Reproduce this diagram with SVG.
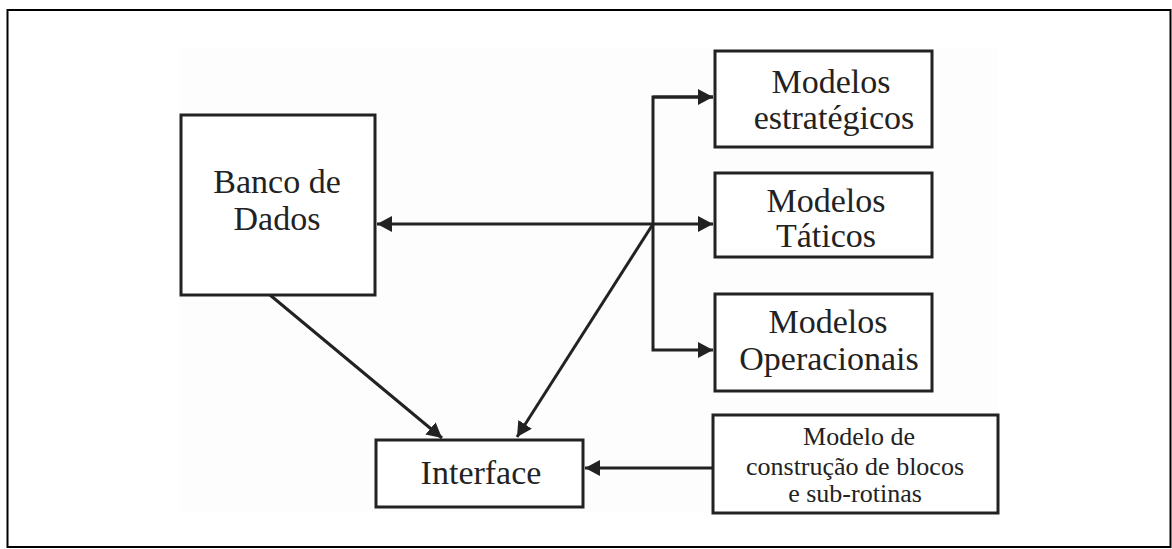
<svg xmlns="http://www.w3.org/2000/svg" width="1172" height="549" viewBox="0 0 1172 549">
  <style>
    .box { fill: #ffffff; stroke: #222222; stroke-width: 3; }
    .lbl { fill: #222222; text-anchor: middle; }
    .big { font-size: 34px; }
    .small { font-size: 26px; }
    .conn { fill: none; stroke: #222222; stroke-width: 3; }
  </style>
  <defs>
    <marker id="arrow" markerUnits="userSpaceOnUse" markerWidth="16" markerHeight="17" refX="15" refY="8" orient="auto-start-reverse">
      <path d="M0,0 L15,8 L0,16 Z" fill="#222222"/>
    </marker>
  </defs>

  <!-- page frame -->
  <rect x="0" y="0" width="1172" height="549" fill="#ffffff"/>
  <rect x="7.5" y="10" width="1163" height="537" fill="none" stroke="#000000" stroke-width="2"/>
  <rect x="180" y="49" width="818" height="464" fill="#fdfdfd"/>

  <!-- connectors -->
  <g id="connectors">
    <line class="conn" x1="377" y1="224" x2="713" y2="224" marker-start="url(#arrow)" marker-end="url(#arrow)"/>
    <polyline class="conn" points="713,97 653,97 653,350 713,350" marker-end="url(#arrow)"/>
    <line class="conn" x1="653" y1="97" x2="713" y2="97" marker-end="url(#arrow)"/>
    <line class="conn" x1="653" y1="224" x2="517" y2="437" marker-end="url(#arrow)"/>
    <line class="conn" x1="270" y1="295" x2="442" y2="438" marker-end="url(#arrow)"/>
    <line class="conn" x1="713" y1="468" x2="585" y2="468" marker-end="url(#arrow)"/>
  </g>

  <g font-family="'Liberation Serif', 'DejaVu Serif', serif">
    <g id="banco-de-dados">
      <rect class="box" x="181" y="115" width="194" height="180"/>
      <text class="lbl big" x="277" y="193">Banco de</text>
      <text class="lbl big" x="277" y="230">Dados</text>
    </g>

    <g id="modelos-estrategicos">
      <rect class="box" x="715" y="51" width="217" height="96"/>
      <text class="lbl big" x="831" y="93">Modelos</text>
      <text class="lbl big" x="834" y="129">estratégicos</text>
    </g>

    <g id="modelos-taticos">
      <rect class="box" x="715" y="173" width="217" height="84"/>
      <text class="lbl big" x="826" y="212">Modelos</text>
      <text class="lbl big" x="826" y="247">Táticos</text>
    </g>

    <g id="modelos-operacionais">
      <rect class="box" x="715" y="294" width="217" height="97"/>
      <text class="lbl big" x="828" y="333">Modelos</text>
      <text class="lbl big" x="829" y="370">Operacionais</text>
    </g>

    <g id="interface">
      <rect class="box" x="376" y="440" width="207" height="67"/>
      <text class="lbl big" x="481" y="484">Interface</text>
    </g>

    <g id="modelo-construcao">
      <rect class="box" x="713" y="415" width="285" height="98"/>
      <text class="lbl small" x="859" y="445">Modelo de</text>
      <text class="lbl small" x="855" y="475">construção de blocos</text>
      <text class="lbl small" x="855" y="502">e sub-rotinas</text>
    </g>
  </g>
</svg>
